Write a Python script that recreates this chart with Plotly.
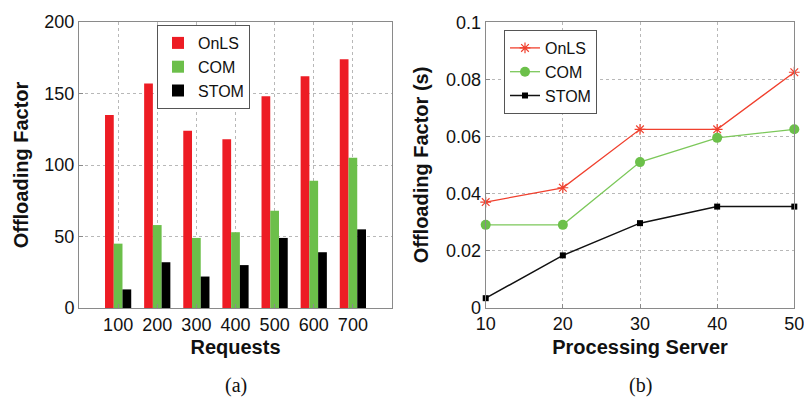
import plotly.graph_objects as go

# ---- data: panel (a) ----
requests = ["100", "200", "300", "400", "500", "600", "700"]
onls_a = [135, 157, 124, 118, 148, 162, 174]
com_a = [45, 58, 49, 53, 68, 89, 105]
stom_a = [13, 32, 22, 30, 49, 39, 55]

# ---- data: panel (b) ----
servers = [10, 20, 30, 40, 50]
onls_b = [0.037, 0.042, 0.0625, 0.0625, 0.0825]
com_b = [0.029, 0.029, 0.051, 0.0595, 0.0625]
stom_b = [0.0033, 0.0183, 0.0296, 0.0354, 0.0354]

RED = "#ed1c24"
GREEN = "#6cbf4a"
BLACK = "#000000"
FONT = "Liberation Sans"

fig = go.Figure()

fig.add_trace(go.Bar(x=requests, y=onls_a, name="OnLS", marker=dict(color=RED, line=dict(width=0)),
                     xaxis="x", yaxis="y", legend="legend"))
fig.add_trace(go.Bar(x=requests, y=com_a, name="COM", marker=dict(color=GREEN, line=dict(width=0)),
                     xaxis="x", yaxis="y", legend="legend"))
fig.add_trace(go.Bar(x=requests, y=stom_a, name="STOM", marker=dict(color=BLACK, line=dict(width=0)),
                     xaxis="x", yaxis="y", legend="legend"))

fig.add_trace(go.Scatter(x=servers, y=onls_b, name="OnLS", mode="lines+markers",
                         line=dict(color="#f0402e", width=1.3),
                         marker=dict(symbol="asterisk-open", size=9, color="#f0402e",
                                     line=dict(color="#f0402e", width=1.2)),
                         xaxis="x2", yaxis="y2", legend="legend2", cliponaxis=False))
fig.add_trace(go.Scatter(x=servers, y=com_b, name="COM", mode="lines+markers",
                         line=dict(color="#7cc85a", width=1.3),
                         marker=dict(symbol="circle", size=10, color="#6cc04a"),
                         xaxis="x2", yaxis="y2", legend="legend2", cliponaxis=False))
fig.add_trace(go.Scatter(x=servers, y=stom_b, name="STOM", mode="lines+markers",
                         line=dict(color="#111111", width=1.5),
                         marker=dict(symbol="square", size=6, color="#000000"),
                         xaxis="x2", yaxis="y2", legend="legend2", cliponaxis=False))

axis_common = dict(
    showline=True, mirror=True, linecolor="#8a8a8a", linewidth=1,
    showgrid=True, gridcolor="#b8b8b8", griddash="dot", gridwidth=1,
    zeroline=False, ticks="inside", ticklen=4, tickcolor="#8a8a8a",
    tickfont=dict(family=FONT, size=18, color="#111"),
    automargin=False, ticklabeloverflow="allow",
)
title_font = dict(family=FONT, size=20, color="#111", weight="bold")

fig.update_layout(
    width=804, height=397,
    margin=dict(l=0, r=0, t=0, b=0),
    paper_bgcolor="white", plot_bgcolor="white",
    barmode="group", bargap=0.33, bargroupgap=0,
    showlegend=True,
    xaxis=dict(domain=[79/804, 392/804], anchor="y", type="category", range=[-1, 7],
               title=dict(text="Requests", font=title_font, standoff=6), **axis_common),
    yaxis=dict(domain=[1-308/397, 1-22/397], anchor="x", range=[0, 200], dtick=50,
               title=dict(text="Offloading Factor", font=title_font, standoff=10), **axis_common),
    xaxis2=dict(domain=[485.7/804, 794.3/804], anchor="y2", range=[10, 50], dtick=10,
                title=dict(text="Processing Server", font=title_font, standoff=6), **axis_common),
    yaxis2=dict(domain=[1-307.6/397, 1-22.3/397], anchor="x2", range=[0, 0.1], dtick=0.02,
                title=dict(text="Offloading Factor (s)", font=title_font, standoff=12), **axis_common),
    legend=dict(x=157/804, y=1-25/397, xanchor="left", yanchor="top",
                bgcolor="white", bordercolor="#555", borderwidth=1,
                font=dict(family=FONT, size=16, color="#111"), tracegroupgap=0),
    legend2=dict(x=504/804, y=1-30/397, xanchor="left", yanchor="top",
                 bgcolor="white", bordercolor="#555", borderwidth=1,
                 font=dict(family=FONT, size=16, color="#111"), tracegroupgap=0),
    annotations=[
        dict(text="(a)", x=(79+392)/2/804, y=1-385/397, xref="paper", yref="paper",
             xanchor="center", yanchor="middle",
             showarrow=False, font=dict(family="Liberation Serif", size=20, color="#111")),
        dict(text="(b)", x=(485.7+794.3)/2/804, y=1-385/397, xref="paper", yref="paper",
             xanchor="center", yanchor="middle",
             showarrow=False, font=dict(family="Liberation Serif", size=20, color="#111")),
    ],
)

fig.write_html("out.html", config={"displayModeBar": False},
               post_script="document.body.style.margin='0';document.body.style.overflow='hidden';")
